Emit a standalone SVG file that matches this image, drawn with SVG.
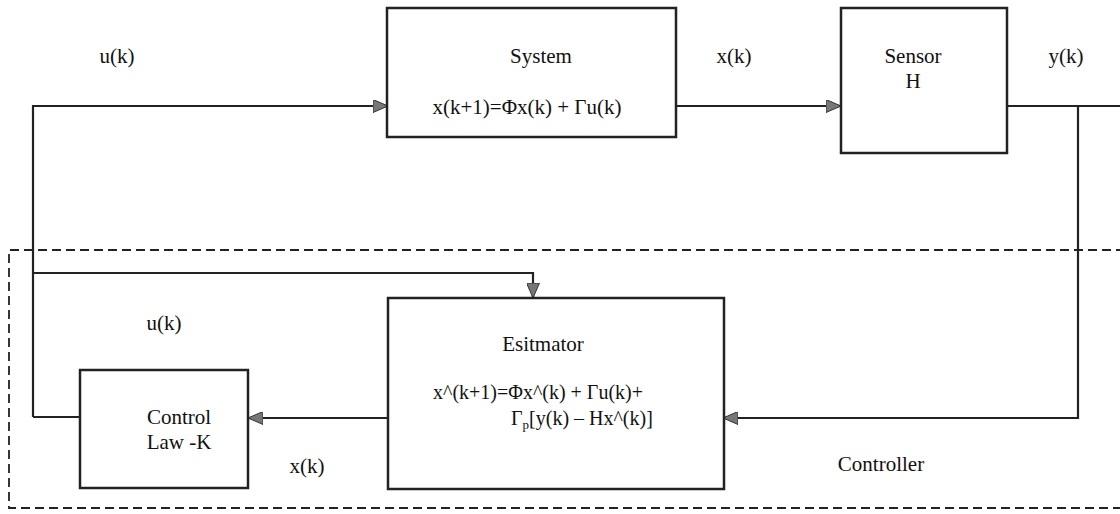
<svg xmlns="http://www.w3.org/2000/svg" width="1120" height="514" viewBox="0 0 1120 514">
<style>
text{font-family:"Liberation Serif","Times New Roman",serif;font-size:21px;fill:#111;text-anchor:middle}
.eq{font-size:20px;text-anchor:start}
.box{fill:#fff;stroke:#222;stroke-width:2.5}
.ln{fill:none;stroke:#222;stroke-width:2.2}
.dash{fill:none;stroke:#222;stroke-width:1.8;stroke-dasharray:9 5}
</style>
<defs>
<marker id="ah" viewBox="0 0 15 13" refX="14" refY="6.5" markerWidth="15" markerHeight="13" markerUnits="userSpaceOnUse" orient="auto">
<path d="M0,0 L15,6.5 L0,13 Z" fill="#777" stroke="#333" stroke-width="1"/>
</marker>
</defs>
<g id="controller-boundary">
<path class="dash" d="M1125,250 L9,250 L9,508 L1125,508"/>
<text x="881" y="471">Controller</text>
</g>
<g id="connectors">
<path class="ln" d="M33,417 L33,106 L387,106" marker-end="url(#ah)"/>
<path class="ln" d="M676,106 L840,106" marker-end="url(#ah)"/>
<path class="ln" d="M1007,106 L1120,106"/>
<path class="ln" d="M1078,106 L1078,418 L724,418" marker-end="url(#ah)"/>
<path class="ln" d="M33,273 L533,273 L533,297" marker-end="url(#ah)"/>
<path class="ln" d="M388,418 L249,418" marker-end="url(#ah)"/>
<path class="ln" d="M33,417 L80,417"/>
<text x="117" y="63">u(k)</text>
<text x="734" y="63">x(k)</text>
<text x="1066" y="63">y(k)</text>
<text x="164" y="330">u(k)</text>
<text x="307" y="473">x(k)</text>
</g>
<g id="system">
<rect class="box" x="387" y="8" width="289" height="129"/>
<text x="541" y="63">System</text>
<text x="527" y="114">x(k+1)=Φx(k) + Γu(k)</text>
</g>
<g id="sensor">
<rect class="box" x="841" y="8" width="166" height="145"/>
<text x="913" y="63">Sensor</text>
<text x="913" y="88">H</text>
</g>
<g id="estimator">
<rect class="box" x="388" y="298" width="336" height="191"/>
<text x="543" y="351">Esitmator</text>
<text class="eq" x="433" y="399">x^(k+1)=Φx^(k) + Γu(k)+</text>
<text class="eq" x="511" y="425">Γ<tspan font-size="13" dy="4">p</tspan><tspan dy="-4">[y(k) – Hx^(k)]</tspan></text>
</g>
<g id="control-law">
<rect class="box" x="80" y="370" width="168" height="118"/>
<text x="179" y="424">Control</text>
<text x="179" y="449">Law -K</text>
</g>
</svg>
